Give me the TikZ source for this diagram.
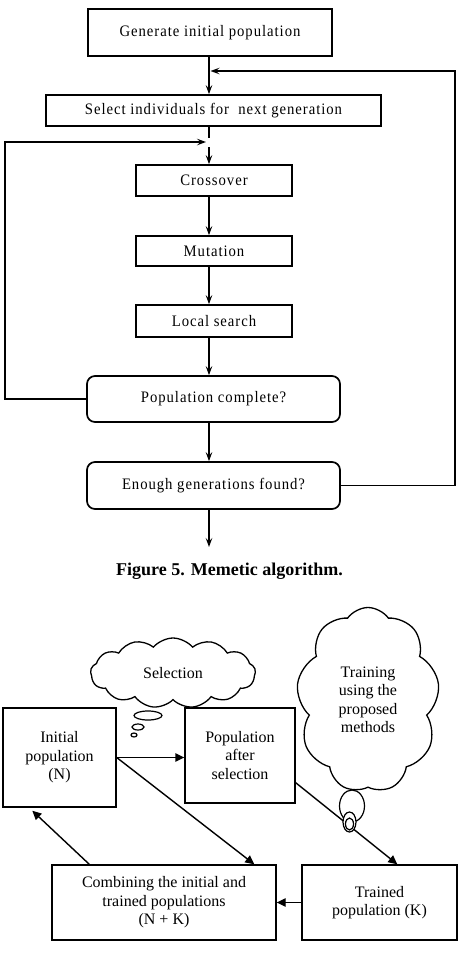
\documentclass[tikz,border=0pt]{standalone}
\usepackage{fontspec}
\setmainfont{Liberation Serif}
\newfontfamily\flowfont[FakeStretch=0.92,LetterSpace=6]{Liberation Serif}
\usetikzlibrary{arrows.meta,shapes.symbols,shapes.geometric,calc}
\begin{document}
\begin{tikzpicture}[x=1pt,y=-1pt,
  fbox/.style={draw, line width=1.7pt, inner sep=0pt, font=\flowfont\fontsize{16}{18}\selectfont},
  rbox/.style={fbox, rounded corners=8pt},
  farrow/.style={line width=1.4pt, -{Stealth[length=9pt,width=6.5pt,inset=3.5pt]}},
  flink/.style={line width=1.4pt},
  bbox/.style={draw, line width=1.4pt, inner sep=0pt, align=center, font=\fontsize{16}{18.5}\selectfont},
  barrow/.style={line width=1.4pt, -{Triangle[length=9pt,width=8.5pt]}},
  bub/.style={draw, fill=white, ellipse, line width=1.2pt, inner sep=0pt},
  cld/.style={draw, fill=white, cloud, cloud ignores aspect, line width=1.3pt, inner sep=0pt, align=center, font=\fontsize{16}{18.5}\selectfont}
]
\useasboundingbox[fill=white] (0,0) rectangle (466,954);
% ---------- top flowchart ----------
\coordinate (ax) at (209,0);
\node[fbox, minimum width=244pt, minimum height=47pt] (gen) at (210,32.5) {Generate initial population};
\node[fbox, minimum width=335pt, minimum height=31pt] (sel) at (213.5,110.5) {Select individuals for\ \ next generation};
\node[fbox, minimum width=156pt, minimum height=31pt] (cross) at (214,180.5) {Crossover};
\node[fbox, minimum width=156pt, minimum height=30pt] (mut) at (214,251) {Mutation};
\node[fbox, minimum width=156pt, minimum height=32pt] (loc) at (214,321) {Local search};
\node[rbox, minimum width=253pt, minimum height=46pt] (popc) at (213.5,399) {Population complete?};
\node[rbox, minimum width=253pt, minimum height=47pt] (enough) at (213.5,485.5) {Enough generations found?};

\draw[farrow] (gen.south -| ax) -- (sel.north -| ax);
\coordinate (gapa) at (209,138);
\coordinate (gapb) at (209,147);
\draw[flink] (sel.south -| ax) -- (gapa);
\draw[farrow] (gapb) -- (cross.north -| ax);
\draw[farrow] (cross.south -| ax) -- (mut.north -| ax);
\draw[farrow] (mut.south -| ax) -- (loc.north -| ax);
\draw[farrow] (loc.south -| ax) -- (popc.north -| ax);
\draw[farrow] (popc.south -| ax) -- (enough.north -| ax);
\coordinate (out) at (209,547);
\draw[farrow] (enough.south -| ax) -- (out);
% loops
\coordinate (rt) at (455,71);
\coordinate (fb) at (210.5,71);
\draw[farrow] (enough.east) -| (rt) -- (fb);
\coordinate (lt) at (5,142);
\coordinate (lp) at (206,142);
\draw[farrow] (popc.west) -| (lt) -- (lp);

\node[font=\bfseries\fontsize{18}{20}\selectfont] (cap) at (229.5,571) {Figure 5. Memetic algorithm.};

% ---------- bottom diagram ----------
\node[bbox, minimum width=113pt, minimum height=99pt] (init) at (59.5,757.5) {Initial\\population\\(N)};
\node[bbox, minimum width=110pt, minimum height=95pt] (after) at (240,755.5) {Population\\after\\selection};
\node[bbox, minimum width=155pt, minimum height=75pt] (trained) at (379.5,902.5) {Trained\\population (K)};
\node[bbox, minimum width=224pt, minimum height=75pt] (comb) at (164,902.5) {Combining the initial and\\trained populations\\(N + K)};

\node[cld, cloud puffs=13, cloud puff arc=100, minimum width=165pt, minimum height=70pt] (selc) at (173,673) {Selection};
\node[cld, cloud puffs=9, cloud puff arc=110, minimum width=143pt, minimum height=185pt] (trainc) at (368,700) {Training\\using the\\proposed\\methods};

\draw[barrow] (init.east) -- (init.east -| after.west);
\coordinate (ct) at ($(comb.north west)+(203,0)$);
\draw[barrow] (init.east) -- (ct);
\coordinate (as) at ($(after.south east)+(0,-21)$);
\coordinate (tt) at ($(trained.north west)+(96,0)$);
\draw[barrow] (as) -- (tt);
\draw[barrow] (trained.west) -- (comb.east);
\coordinate (cs) at ($(comb.north west)+(38,0)$);
\coordinate (ie) at ($(init.south west)+(30,3)$);
\draw[barrow] (cs) -- (ie);

% thought bubbles
\node[bub, minimum width=28pt, minimum height=9pt] (b1) at (148,715.5) {};
\node[bub, minimum width=12pt, minimum height=6pt] (b2) at (138,727) {};
\node[bub, minimum width=6pt, minimum height=4pt] (b3) at (134,735) {};
\node[bub, minimum width=25pt, minimum height=32pt] (t1) at (352,806) {};
\node[bub, minimum width=13pt, minimum height=20pt] (t2) at (349.5,822) {};
\node[bub, minimum width=8pt, minimum height=12pt] (t3) at (349.5,824) {};
\end{tikzpicture}
\end{document}
